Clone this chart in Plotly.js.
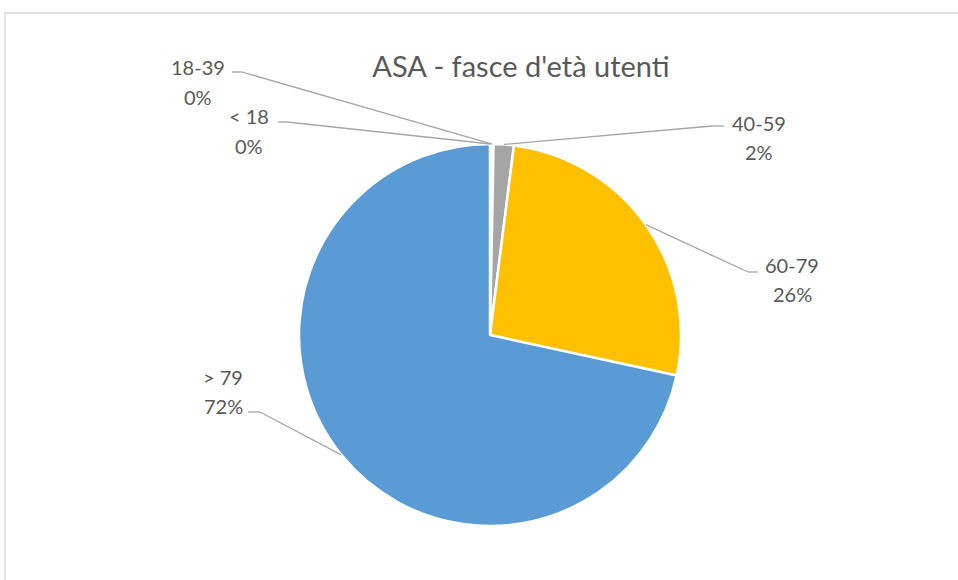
<!DOCTYPE html>
<html>
<head>
<meta charset="utf-8">
<script src="https://cdn.plot.ly/plotly-3.0.1.min.js"></script>
<style>html,body{margin:0;padding:0;background:#fff}#chart{width:958px;height:580px}</style>
</head>
<body>
<div id="chart"></div>
<script>
// Data
const categories = ["< 18", "18-39", "40-59", "60-79", "> 79"];
const values = [0.1, 0.2, 1.7, 26.4, 71.6];
const colors = ["#5B9BD5", "#ED7D31", "#A5A5A5", "#FFC000", "#5B9BD5"];
const chartTitle = "ASA - fasce d'età utenti";

// Layout geometry (pixels)
const W = 958, H = 580;
const CX = 490, CY = 335, R = 191;
// label placement: [labelCenterX, line1Y, line2Y, elbowX, elbowY, endX]
const labelPos = [
  [249, 116, 146, 287, 122, 278],
  [198, 67, 97, 242, 72, 232],
  [759, 123, 152, 712, 126, 724],
  [792, 265, 294, 748, 272, 758],
  [223, 377, 406, 260, 412, 248]
];

const px = x => x / W;
const py = y => 1 - y / H;

const total = values.reduce((a, b) => a + b, 0);
let cum = 0;
const annotations = [];
const shapes = [];
const textColor = "#595959";
const lineColor = "#A6A6A6";
const FONT = "Lato, 'Open Sans', sans-serif";

values.forEach((v, i) => {
  const mid = (cum + v / 2) / total;
  cum += v;
  const ang = mid * 2 * Math.PI;
  const ex = CX + R * Math.sin(ang);
  const ey = CY - R * Math.cos(ang);
  const [lx, l1, l2, bx, by, hx] = labelPos[i];
  const pct = Math.round(v / total * 100) + "%";
  annotations.push({xref: "paper", yref: "paper", x: px(lx), y: py(l1), text: categories[i],
    showarrow: false, xanchor: "center", yanchor: "middle",
    font: {family: FONT, size: 20, color: textColor}});
  annotations.push({xref: "paper", yref: "paper", x: px(lx), y: py(l2), text: pct,
    showarrow: false, xanchor: "center", yanchor: "middle",
    font: {family: FONT, size: 20, color: textColor}});
  shapes.push({type: "line", xref: "paper", yref: "paper",
    x0: px(ex), y0: py(ey), x1: px(bx), y1: py(by),
    line: {color: lineColor, width: 1.3}});
  shapes.push({type: "line", xref: "paper", yref: "paper",
    x0: px(bx), y0: py(by), x1: px(hx), y1: py(by),
    line: {color: lineColor, width: 1.3}});
});

// chart border (partially visible)
shapes.push({type: "rect", xref: "paper", yref: "paper",
  x0: px(5), y0: py(13), x1: px(975), y1: py(600),
  line: {color: "#D9D9D9", width: 1.5}, fillcolor: "rgba(0,0,0,0)", layer: "below"});

const trace = {
  type: "pie",
  labels: categories,
  values: values,
  sort: false,
  direction: "clockwise",
  rotation: 0,
  textinfo: "none",
  textposition: "none",
  hoverinfo: "none",
  marker: {colors: colors, line: {color: "#FFFFFF", width: 2.5}},
  domain: {x: [px(CX - R), px(CX + R)], y: [py(CY + R), py(CY - R)]},
  showlegend: false
};

const layout = {
  width: W, height: H,
  margin: {l: 0, r: 0, t: 0, b: 0},
  paper_bgcolor: "#FFFFFF",
  showlegend: false,
  title: {text: chartTitle, x: px(521), xanchor: "center", y: py(67), yanchor: "middle",
    font: {family: FONT, size: 29, color: textColor}},
  annotations: annotations,
  shapes: shapes
};

Plotly.newPlot("chart", [trace], layout, {displayModeBar: false, staticPlot: true});
</script>
</body>
</html>
